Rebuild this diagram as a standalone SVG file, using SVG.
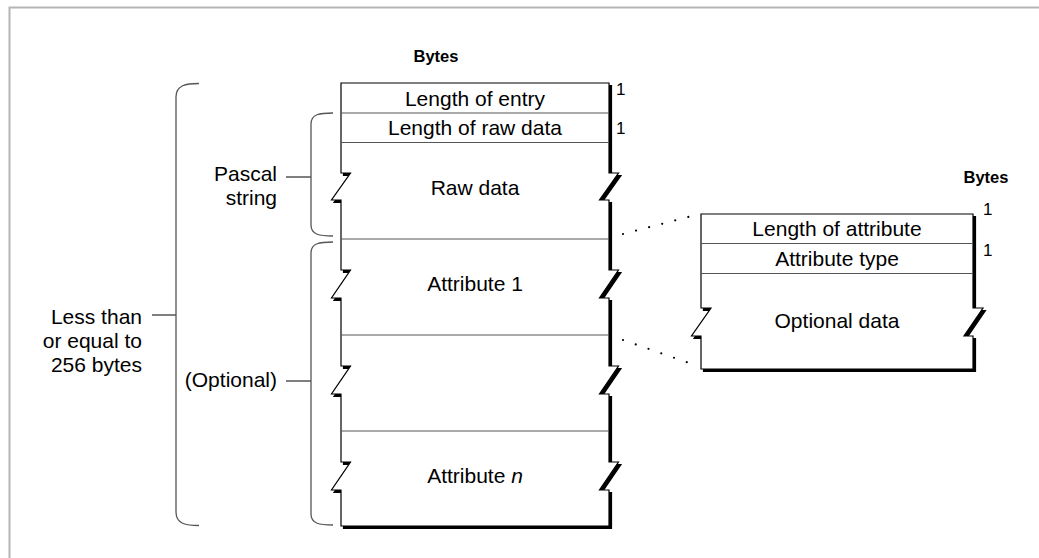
<svg xmlns="http://www.w3.org/2000/svg" width="1039" height="558" viewBox="0 0 1039 558">
<style>
.t{font-family:"Liberation Sans",Arial,sans-serif;font-size:21px;fill:#000}
.c{text-anchor:middle}
.e{text-anchor:end}
.n{font-family:"Liberation Sans",Arial,sans-serif;font-size:17px;fill:#000}
.b{font-family:"Liberation Sans",Arial,sans-serif;font-size:16.5px;font-weight:bold;fill:#000;text-anchor:middle}
.box{fill:#fff;stroke:#000;stroke-width:1.2;stroke-linejoin:miter}
.shadow{fill:#000;stroke:#000;stroke-width:1.2}
.sep{stroke:#555;stroke-width:1.2;fill:none}
.brace{fill:none;stroke:#555;stroke-width:1.3}
.dot{fill:none;stroke:#000;stroke-width:2.2;stroke-linecap:round;stroke-dasharray:0 13.5}
.frame{fill:none;stroke:#b5b5b5;stroke-width:2}
</style>
<defs>
<path id="mainShape" d="M341,83 H609 V173 H618.5 L599.5,200 H609 V270 H618.5 L599.5,298 H609 V366 H618.5 L599.5,394 H609 V462 H618.5 L599.5,490 H609 V526 H341 V490 H331.5 L350.5,462 H341 V394 H331.5 L350.5,366 H341 V298 H331.5 L350.5,270 H341 V200 H331.5 L350.5,173 H341 Z"/>
<path id="attrShape" d="M701,214 H973 V308 H983 L964,336 H973 V369 H701 V336 H691.5 L711,308 H701 Z"/>
</defs>
<path class="frame" d="M9.5,558 V7.5 H1039"/>
<g id="entry">
<use href="#mainShape" class="shadow" transform="translate(2.5,2.5)"/>
<use href="#mainShape" class="box"/>
<path class="sep" d="M341,113 H609 M341,142.5 H609 M341,239 H609 M341,335 H609 M341,431 H609"/>
<text class="t c" x="475" y="105.5">Length of entry</text>
<text class="t c" x="475" y="135">Length of raw data</text>
<text class="t c" x="475" y="194.5">Raw data</text>
<text class="t c" x="475" y="291">Attribute 1</text>
<text class="t c" x="475" y="483">Attribute <tspan font-style="italic">n</tspan></text>
<text class="b" x="436" y="62">Bytes</text>
<text class="n" x="616" y="95">1</text>
<text class="n" x="616" y="133.5">1</text>
</g>
<g id="attribute">
<use href="#attrShape" class="shadow" transform="translate(2.5,2.5)"/>
<use href="#attrShape" class="box"/>
<path class="sep" d="M701,243.5 H973 M701,273.5 H973"/>
<text class="t c" x="837" y="236">Length of attribute</text>
<text class="t c" x="837" y="266">Attribute type</text>
<text class="t c" x="837" y="327.5">Optional data</text>
<text class="b" x="986" y="183">Bytes</text>
<text class="n" x="983" y="215">1</text>
<text class="n" x="983" y="256">1</text>
</g>
<g id="labels">
<text class="t e" x="142" y="324">Less than</text>
<text class="t e" x="142" y="348">or equal to</text>
<text class="t e" x="142" y="372">256 bytes</text>
<text class="t e" x="277" y="181">Pascal</text>
<text class="t e" x="277" y="205">string</text>
<text class="t e" x="277" y="387">(Optional)</text>
</g>
<g id="connectors">
<path class="brace" d="M199,83.5 C186,83.5 176,85 176,97 V512 C176,524 186,525.5 199,525.5 M152,315 H176"/>
<path class="brace" d="M333,113 C320,113 311,114 311,124 V225 C311,235 320,236 333,236 M286,177 H311"/>
<path class="brace" d="M333,242 C320,242 311,243 311,253 V514 C311,524 320,525 333,525 M286,381 H311"/>
<path class="dot" d="M623,234 L692,216"/>
<path class="dot" d="M623,340 L692,364"/>
</g>
</svg>
